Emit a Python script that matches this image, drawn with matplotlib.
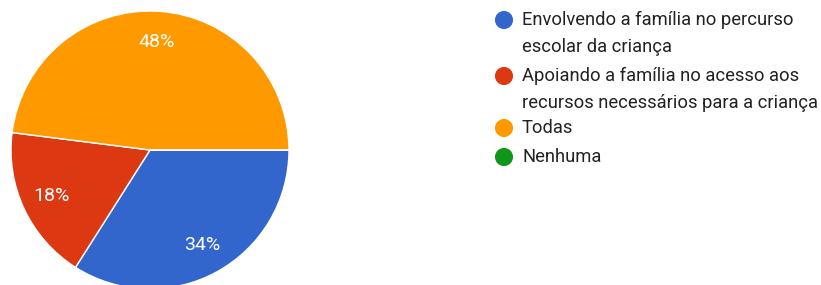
import matplotlib
matplotlib.use('Agg')
import matplotlib.pyplot as plt

# chart data
labels = ['Envolvendo a família no percurso\nescolar da criança',
          'Apoiando a família no acesso aos\nrecursos necessários para a criança',
          'Todas',
          'Nenhuma']
values = [34, 18, 48, 0]
colors = ['#3366CC', '#DC3912', '#FF9900', '#109618']

plt.rcParams['font.family'] = ['Roboto', 'DejaVu Sans']

W, H = 821, 285
fig = plt.figure(figsize=(W / 100, H / 100), dpi=100)

# pie: centre at (150, 150) px, radius 139 px
r = 139
cx, cy = 150, 150
ax = fig.add_axes([(cx - r) / W, (H - cy - r) / H, 2 * r / W, 2 * r / H])


def pct(p):
    return f'{p:.0f}%' if p > 0.5 else ''


wedges, _, autotexts = ax.pie(values, colors=colors, startangle=0, counterclock=False,
                              autopct=pct, pctdistance=0.78, radius=1,
                              wedgeprops=dict(edgecolor='white', linewidth=1))
for t in autotexts:
    t.set_color('white')
    t.set_fontsize(14)
ax.set_xlim(-1, 1)
ax.set_ylim(-1, 1)
ax.set_aspect('equal')
ax.axis('off')

# legend drawn in pixel coordinates
lax = fig.add_axes([0, 0, 1, 1])
lax.set_xlim(0, W)
lax.set_ylim(H, 0)
lax.axis('off')
ys = [20, 76, 128, 157]
for lab, col, y in zip(labels, colors, ys):
    lax.scatter([504], [y], s=170, color=col, edgecolors='none')
    lax.text(522, y - 9, lab, fontsize=13.2, color='#222222', va='top', ha='left',
             linespacing=1.65)

fig.savefig('out.png', dpi=100)
